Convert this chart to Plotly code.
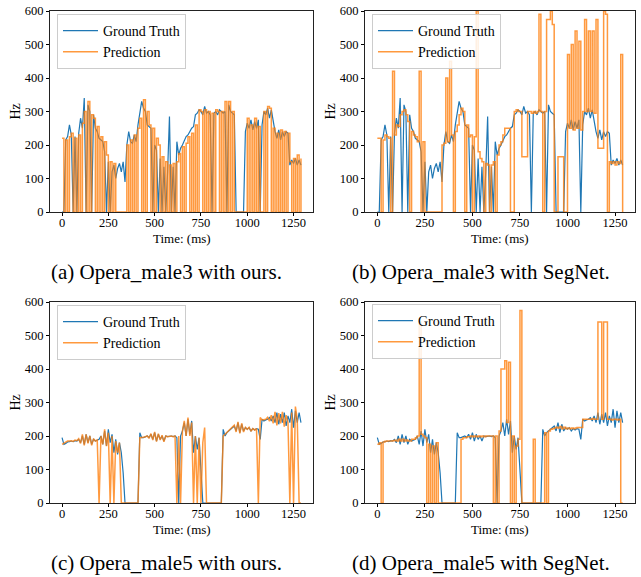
import plotly.graph_objects as go

# ---------------- data (10 ms frames, 0 = unvoiced) ----------------
frame_ms = 10
n_frames = 130
time_ms = [frame_ms * i for i in range(n_frames)]

gt_male3 = [0, 0, 215, 225, 260, 230, 0, 225, 0, 235,
            280, 250, 340, 0, 320, 300, 0, 290, 250, 240,
            220, 215, 210, 180, 0, 150, 0, 120, 140, 100,
            130, 145, 120, 150, 90, 200, 240, 210, 205, 230,
            210, 260, 290, 330, 310, 300, 260, 255, 250, 0,
            200, 185, 0, 160, 0, 135, 0, 120, 285, 0,
            135, 0, 210, 170, 190, 200, 215, 225, 230, 240,
            250, 255, 290, 295, 305, 300, 290, 315, 295, 300,
            290, 0, 295, 300, 290, 305, 300, 295, 300, 0,
            320, 300, 295, 290, 0, 0, 0, 0, 0, 240,
            265, 250, 275, 245, 270, 250, 275, 0, 260, 300,
            290, 310, 280, 305, 270, 240, 220, 245, 215, 240,
            225, 240, 235, 140, 155, 145, 160, 140, 155, 140]

pred_male3_ours = [220, 0, 215, 0, 225, 235, 0, 220, 0, 230,
                   0, 265, 300, 0, 330, 0, 290, 280, 0, 255,
                   0, 225, 0, 210, 170, 0, 150, 0, 145, 0,
                   0, 0, 0, 0, 0, 200, 0, 215, 0, 230,
                   0, 250, 280, 0, 335, 0, 300, 260, 0, 250,
                   0, 220, 200, 0, 165, 0, 150, 0, 140, 0,
                   145, 0, 150, 175, 0, 195, 0, 205, 225, 0,
                   235, 0, 260, 0, 305, 300, 0, 305, 0, 300,
                   0, 295, 0, 305, 300, 0, 300, 0, 330, 0,
                   330, 0, 300, 0, 0, 0, 0, 0, 0, 0,
                   280, 0, 260, 0, 280, 0, 255, 0, 0, 300,
                   0, 315, 310, 0, 250, 0, 235, 0, 245, 0,
                   240, 0, 235, 150, 0, 160, 0, 170, 0, 160]

pred_male3_segnet = [220, 220, 0, 215, 230, 225, 220, 0, 420, 230,
                     260, 255, 290, 300, 305, 290, 270, 0, 240, 230,
                     225, 210, 420, 0, 210, 0, 0, 0, 0, 0,
                     0, 0, 0, 0, 200, 205, 400, 210, 450, 230,
                     0, 240, 260, 290, 310, 300, 0, 260, 225, 230,
                     0, 225, 600, 180, 160, 150, 0, 145, 140, 0,
                     140, 150, 0, 170, 200, 210, 230, 250, 250, 250,
                     0, 0, 300, 305, 300, 300, 165, 165, 165, 300,
                     300, 295, 300, 295, 300, 590, 300, 0, 300, 575,
                     575, 600, 560, 0, 0, 165, 165, 165, 0, 0,
                     470, 250, 500, 245, 540, 250, 510, 245, 300, 575,
                     300, 540, 300, 540, 295, 575, 190, 190, 190, 600,
                     590, 0, 150, 145, 150, 140, 150, 145, 470, 0]

gt_male5 = [195, 175, 178, 182, 183, 185, 183, 186, 185, 190,
            180, 200, 175, 205, 180, 200, 175, 190, 185, 188,
            190, 200, 175, 215, 170, 220, 180, 205, 150, 190,
            145, 180, 150, 90, 0, 0, 0, 0, 0, 0,
            0, 0, 210, 195, 195, 197, 200, 195, 205, 190,
            210, 185, 205, 190, 200, 185, 200, 198, 200, 200,
            198, 200, 195, 0, 200, 215, 240, 200, 250, 205,
            245, 150, 200, 160, 195, 100, 0, 0, 0, 0,
            0, 0, 0, 0, 0, 0, 0, 220, 200, 210,
            215, 220, 225, 230, 215, 240, 210, 235, 215, 225,
            220, 225, 215, 222, 218, 222, 220, 190, 250, 245,
            248, 250, 255, 245, 260, 240, 270, 235, 265, 240,
            270, 230, 260, 240, 280, 225, 275, 240, 270, 240]

pred_male5_ours = [175, 178, 182, 185, 185, 186, 184, 188, 186, 192,
                   178, 205, 172, 205, 178, 200, 172, 192, 185, 188,
                   0, 200, 175, 220, 170, 210, 0, 200, 0, 185,
                   150, 180, 0, 0, 0, 0, 0, 0, 0, 0,
                   0, 0, 195, 195, 196, 198, 200, 193, 207, 188,
                   212, 183, 207, 188, 202, 183, 200, 198, 200, 200,
                   198, 200, 0, 200, 0, 215, 245, 200, 255, 200,
                   240, 0, 200, 0, 195, 0, 180, 225, 0, 0,
                   0, 0, 0, 0, 0, 0, 0, 200, 205, 212,
                   218, 222, 228, 232, 212, 242, 208, 238, 212, 226,
                   220, 226, 214, 222, 218, 222, 0, 255, 248, 250,
                   250, 256, 244, 262, 238, 272, 232, 268, 238, 272,
                   228, 262, 240, 0, 270, 0, 288, 250, 0, 0]

pred_male5_segnet = [175, 180, 0, 182, 184, 185, 185, 185, 186, 187,
                     185, 190, 185, 190, 185, 188, 185, 185, 190, 190,
                     195, 200, 540, 205, 200, 195, 0, 175, 0, 170,
                     0, 180, 0, 0, 0, 0, 0, 0, 0, 0,
                     0, 0, 0, 0, 190, 195, 195, 198, 198, 200,
                     198, 200, 198, 200, 198, 200, 198, 200, 200, 200,
                     200, 0, 200, 0, 215, 400, 400, 425, 240, 420,
                     0, 200, 0, 170, 190, 575, 0, 0, 0, 0,
                     0, 0, 190, 0, 0, 0, 0, 0, 210, 0,
                     215, 220, 222, 224, 226, 224, 228, 222, 226, 222,
                     224, 222, 224, 222, 224, 225, 225, 225, 250, 250,
                     250, 250, 250, 252, 250, 250, 540, 540, 250, 540,
                     540, 250, 250, 248, 250, 250, 248, 250, 0, 0]

panels = [
    ("(a) Opera_male3 with ours.", gt_male3, pred_male3_ours, "hv"),
    ("(b) Opera_male3 with SegNet.", gt_male3, pred_male3_segnet, "hv"),
    ("(c) Opera_male5 with ours.", gt_male5, pred_male5_ours, "linear"),
    ("(d) Opera_male5 with SegNet.", gt_male5, pred_male5_segnet, "hv"),
]
series_names = ["Ground Truth", "Prediction"]
x_ticks = [0, 250, 500, 750, 1000, 1250]
y_ticks = [0, 100, 200, 300, 400, 500, 600]

# ---------------- layout geometry (screen pixels; body margin removed) ----------------
W, H = 641, 577
FONT = "Liberation Serif, Times New Roman, serif"
BLUE = "#1f77b4"
ORANGE = "rgba(255,127,14,0.8)"


def px_x(p):
    return p / W


def px_y(p):
    return 1 - p / H


x_doms = [(50, 313), (365, 635)]
y_doms = [(11, 212), (302, 503)]
legend_pos = [(57, 14), (372, 14), (57, 305), (372, 304)]
hz_x = [15, 330]
caption_left = [49, 350]
caption_y = [272, 563]
time_y = [238, 529]

fig = go.Figure()
layout = dict(width=W, height=H, margin=dict(l=0, r=0, t=0, b=0, autoexpand=False),
              paper_bgcolor="white", plot_bgcolor="white",
              font=dict(family=FONT, color="black"), annotations=[])

for k, (caption, gt, pred, pshape) in enumerate(panels):
    col, row = k % 2, k // 2
    sfx = "" if k == 0 else str(k + 1)
    lg = "legend" if k == 0 else "legend" + str(k + 1)
    fig.add_trace(go.Scatter(x=time_ms, y=gt, mode="lines", name=series_names[0],
                             line=dict(color=BLUE, width=1.2),
                             xaxis="x" + sfx, yaxis="y" + sfx, legend=lg))
    fig.add_trace(go.Scatter(x=time_ms, y=pred, mode="lines", name=series_names[1],
                             line=dict(color=ORANGE, width=1.5, shape=pshape),
                             xaxis="x" + sfx, yaxis="y" + sfx, legend=lg))
    ax = dict(domain=[px_x(x_doms[col][0]), px_x(x_doms[col][1])],
              range=[-65, 1355], tickvals=x_ticks, ticks="outside", ticklen=3,
              tickcolor="black", showline=True, linecolor="#222", linewidth=1,
              mirror=True, showgrid=False, zeroline=False, automargin=False,
              ticklabelstandoff=-4, ticklabeloverflow="allow",
              tickfont=dict(family=FONT, size=12.5, color="black"),
              anchor="y" + sfx)
    ay = dict(domain=[px_y(y_doms[row][1]), px_y(y_doms[row][0])],
              range=[0, 600], tickvals=y_ticks, ticks="outside", ticklen=3,
              tickcolor="black", showline=True, linecolor="#222", linewidth=1,
              mirror=True, showgrid=False, zeroline=False, automargin=False,
              ticklabeloverflow="allow",
              tickfont=dict(family=FONT, size=12.5, color="black"),
              anchor="x" + sfx)
    layout["xaxis" + sfx] = ax
    layout["yaxis" + sfx] = ay
    lx, ly = legend_pos[k]
    layout[lg] = dict(x=px_x(lx), y=px_y(ly), xanchor="left", yanchor="top",
                      bgcolor="rgba(255,255,255,0.85)", bordercolor="#cccccc",
                      borderwidth=1, font=dict(family=FONT, size=14, color="black"),
                      itemwidth=35, tracegroupgap=0)
    xc = (x_doms[col][0] + x_doms[col][1]) / 2
    yc = (y_doms[row][0] + y_doms[row][1]) / 2
    layout["annotations"] += [
        dict(text="Hz", x=px_x(hz_x[col]), y=px_y(yc), xref="paper", yref="paper",
             xanchor="center", yanchor="middle",
             showarrow=False, textangle=-90, font=dict(family=FONT, size=14)),
        dict(text="Time: (ms)", x=px_x(xc), y=px_y(time_y[row]), xref="paper",
             yref="paper", xanchor="center", yanchor="middle",
             showarrow=False, font=dict(family=FONT, size=13)),
        dict(text=caption, x=px_x(caption_left[col]), y=px_y(caption_y[row]),
             xref="paper", yref="paper", xanchor="left", yanchor="middle",
             showarrow=False, font=dict(family=FONT, size=21)),
    ]

fig.update_layout(**layout)
fig.write_html("out.html", config={"displayModeBar": False},
               post_script="document.body.style.margin='0';document.body.style.overflow='hidden';")
